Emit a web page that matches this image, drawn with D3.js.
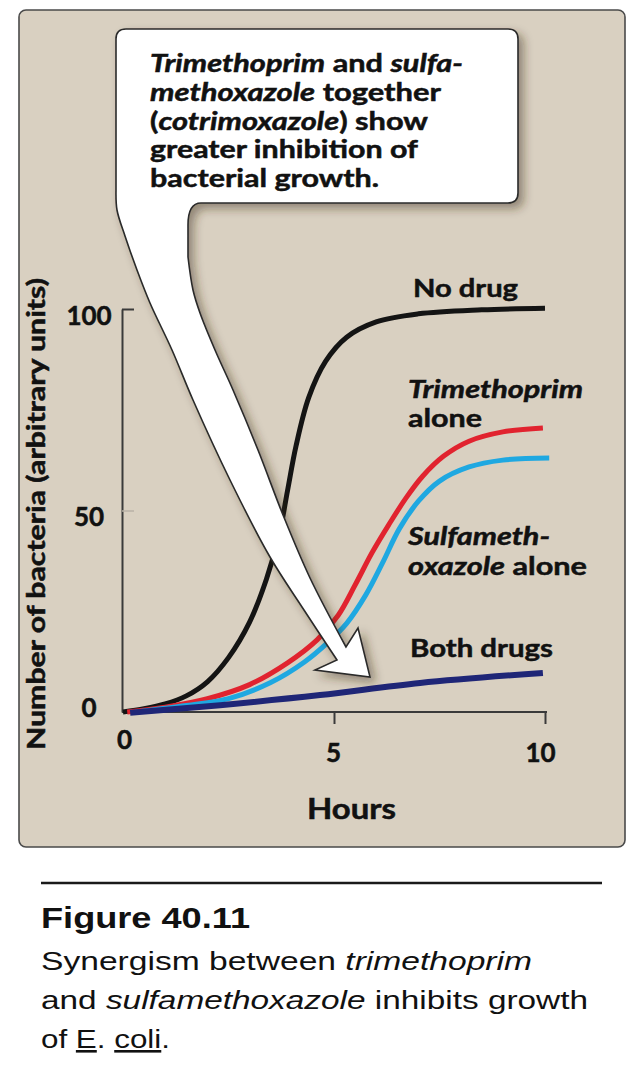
<!DOCTYPE html>
<html>
<head>
<meta charset="utf-8">
<script src="https://cdn.jsdelivr.net/npm/d3@7"></script>
<style>
  html, body { margin: 0; padding: 0; background: #ffffff; }
  svg { display: block; }
</style>
</head>
<body>
<svg id="chart" width="641" height="1073"></svg>
<script>
// ---------------- DATA ----------------
const hoursNoDrug = [0, 0.5, 1.0, 1.5, 2.0, 2.5, 3.0, 3.4, 3.7, 3.9, 4.1, 4.4, 4.8, 5.3, 6.0, 7.0, 8.5, 10];
const noDrug      = [0, 0.8, 2.0, 4.0, 7.5, 13.5, 22.3, 33, 44, 55, 66, 78, 87, 93, 96.8, 98.8, 99.8, 100.2];

const hoursTrimethoprim = [0.1, 1.0, 2.0, 3.0, 3.9, 4.6, 5.1, 5.5, 5.9, 6.3, 6.7, 7.1, 7.6, 8.2, 9.0, 9.95];
const trimethoprim      = [0, 1.2, 3.3, 6.8, 12.2, 17.9, 24, 31.5, 39.5, 46.5, 53, 58.5, 63.5, 67.2, 69.5, 70.5];

const hoursSulfa = [0.3, 1.5, 2.5, 3.5, 4.3, 4.85, 5.3, 5.75, 6.15, 6.55, 7.0, 7.5, 8.2, 9.0, 10.1];
const sulfa      = [0, 1.6, 3.3, 7.3, 12.4, 17.2, 22, 29, 37, 45.5, 52.3, 57.3, 60.8, 62.5, 63.0];

const hoursBoth = [0.17, 2.3, 4.67, 7.04, 9.95];
const bothDrugs = [-0.2, 1.7, 4.2, 7.2, 9.7];

const xTicks = [0, 5, 10];
const yTicks = [0, 50, 100];

// ---------------- LAYOUT ----------------
const svg = d3.select("#chart");
const FONT = "Lato, 'Open Sans', sans-serif";
const CAPFONT = "'Liberation Sans', Arial, Helvetica, sans-serif";
const INK = "#111";

const x = d3.scaleLinear().domain([0, 10]).range([123, 545]);
const y = d3.scaleLinear().domain([0, 100]).range([712, 309]);

// drop shadow filter
const defs = svg.append("defs");
const f = defs.append("filter").attr("id", "shadow").attr("x", "-20%").attr("y", "-20%").attr("width", "150%").attr("height", "150%");
f.append("feDropShadow").attr("dx", 5).attr("dy", 5).attr("stdDeviation", 5)
  .attr("flood-color", "#3a2e1e").attr("flood-opacity", 0.45);

// panel
svg.append("rect")
  .attr("x", 19).attr("y", 10).attr("width", 606).attr("height", 837)
  .attr("rx", 7).attr("ry", 7)
  .attr("fill", "#d9d0c1").attr("stroke", "#4a4a4a").attr("stroke-width", 1.6);

// bold-ish text helper (slight stroke to match heavier source type)
function heavy(sel, w) {
  return sel.attr("fill", INK).attr("stroke", INK).attr("stroke-width", w).attr("paint-order", "stroke");
}

// ---------------- AXES ----------------
const yAxis = d3.axisLeft(y).tickValues(yTicks).tickSizeInner(-12).tickSizeOuter(0).tickFormat(d3.format("d"));
const gy = svg.append("g").attr("transform", "translate(122,0)").call(yAxis);
gy.select(".domain").attr("stroke", "#3a3a3a").attr("stroke-width", 2);
gy.selectAll(".tick line")
  .attr("stroke", d => d === 100 ? "#3a3a3a" : (d === 50 ? "#b9b2a6" : "none"))
  .attr("stroke-width", d => d === 100 ? 2 : 1.5);
heavy(gy.selectAll(".tick text")
  .attr("x", -33).attr("dy", null)
  .attr("y", d => d === 0 ? 4 : 15)
  .attr("text-anchor", "middle")
  .attr("font-family", FONT).attr("font-weight", 700).attr("font-size", 26), 0.5);

const xAxis = d3.axisBottom(x).tickValues(xTicks).tickSizeInner(12).tickSizeOuter(0).tickFormat(d3.format("d"));
const gx = svg.append("g").attr("transform", "translate(0,712)").call(xAxis);
gx.select(".domain").attr("stroke", "#3a3a3a").attr("stroke-width", 2)
  .attr("d", `M${x(0) - 1},0H${x(10) + 2}`);
gx.selectAll(".tick line").attr("stroke", d => d === 0 ? "none" : "#3a3a3a").attr("stroke-width", 2);
heavy(gx.selectAll(".tick text")
  .attr("dy", null)
  .attr("x", d => d === 10 ? -5 : (d === 5 ? -1 : 1))
  .attr("y", d => d === 0 ? 37 : 50)
  .attr("font-family", FONT).attr("font-weight", 700).attr("font-size", 26), 0.5);

// axis titles
heavy(svg.append("text")
  .attr("transform", "translate(45,514) rotate(-90)")
  .attr("text-anchor", "middle")
  .attr("font-family", FONT).attr("font-weight", 700).attr("font-size", 24)
  .attr("textLength", 472).attr("lengthAdjust", "spacingAndGlyphs")
  .text("Number of bacteria (arbitrary units)"), 0.5);

heavy(svg.append("text")
  .attr("x", 307).attr("y", 819)
  .attr("font-family", FONT).attr("font-weight", 700).attr("font-size", 28)
  .attr("textLength", 89).attr("lengthAdjust", "spacingAndGlyphs")
  .text("Hours"), 0.5);

// ---------------- CURVES ----------------
const line = d3.line().x(d => x(d[0])).y(d => y(d[1])).curve(d3.curveCatmullRom.alpha(0.5));
const series = [
  { h: hoursNoDrug, v: noDrug, color: "#141414", w: 5 },
  { h: hoursTrimethoprim, v: trimethoprim, color: "#e1232f", w: 5 },
  { h: hoursSulfa, v: sulfa, color: "#1fa8e1", w: 5 },
  { h: hoursBoth, v: bothDrugs, color: "#1f2677", w: 6 }
];
svg.append("g").selectAll("path").data(series).join("path")
  .attr("d", s => line(s.h.map((h, i) => [h, s.v[i]])))
  .attr("fill", "none").attr("stroke", s => s.color).attr("stroke-width", s => s.w)
  .attr("stroke-linecap", "butt").attr("stroke-linejoin", "round");

// ---------------- CALLOUT ----------------
const cr = d3.line().curve(d3.curveCatmullRom.alpha(0.5));
const seg = pts => cr(pts).replace(/^M/, "L");
const leftEdge = [[116, 190], [117, 210], [125, 236], [137, 270], [150, 303], [172, 350], [193, 400], [230, 480], [270, 557], [304, 610], [337, 660]];
const rightEdge = [[188, 257], [193, 290], [200, 313], [215, 350], [233, 390], [258, 450], [283, 515], [310, 578], [346, 647]];
const head = [[358, 628], [370, 677], [315, 670], [337, 660]];
let p = "M126,29H508Q518,29 518,39V193Q518,203 508,203H201C191,203 188,212 188,225V257";
p += seg(rightEdge);
p += head.map(q => "L" + q[0] + "," + q[1]).join("");
p += seg(leftEdge.slice().reverse());
p += "L116,39Q116,29 126,29Z";
svg.append("path").attr("d", p)
  .attr("fill", "#ffffff").attr("stroke", "#2a2a2a").attr("stroke-width", 1.6)
  .attr("stroke-linejoin", "miter").attr("filter", "url(#shadow)");

const calloutLines = [
  { parts: [["Trimethoprim", true], [" and ", false], ["sulfa-", true]], len: 313 },
  { parts: [["methoxazole", true], [" together", false]], len: 291 },
  { parts: [["(", false], ["cotrimoxazole", true], [") show", false]], len: 278 },
  { parts: [["greater inhibition of", false]], len: 268 },
  { parts: [["bacterial growth.", false]], len: 229 }
];
const cb = [72, 101, 130, 158, 187];
calloutLines.forEach((ln, i) => {
  const t = heavy(svg.append("text").attr("x", 150).attr("y", cb[i])
    .attr("font-family", FONT).attr("font-weight", 700).attr("font-size", 25)
    .attr("textLength", ln.len).attr("lengthAdjust", "spacingAndGlyphs"), 0.5);
  ln.parts.forEach(pt => t.append("tspan").attr("font-style", pt[1] ? "italic" : "normal").text(pt[0]));
});

// ---------------- CURVE LABELS ----------------
const labels = [
  { x: 413, y: 297, len: 105, parts: [["No drug", false]] },
  { x: 408, y: 398, len: 175, parts: [["Trimethoprim", true]] },
  { x: 408, y: 427, len: 74, parts: [["alone", false]] },
  { x: 408, y: 545, len: 142, parts: [["Sulfameth-", true]] },
  { x: 408, y: 575, len: 179, parts: [["oxazole", true], [" alone", false]] },
  { x: 410, y: 657, len: 143, parts: [["Both drugs", false]] }
];
labels.forEach(l => {
  const t = heavy(svg.append("text").attr("x", l.x).attr("y", l.y)
    .attr("font-family", FONT).attr("font-weight", 700).attr("font-size", 25)
    .attr("textLength", l.len).attr("lengthAdjust", "spacingAndGlyphs"), 0.5);
  l.parts.forEach(pt => t.append("tspan").attr("font-style", pt[1] ? "italic" : "normal").text(pt[0]));
});

// ---------------- CAPTION ----------------
svg.append("line").attr("x1", 41).attr("x2", 602).attr("y1", 883).attr("y2", 883)
  .attr("stroke", "#1a1a1a").attr("stroke-width", 2.5);
svg.append("text").attr("x", 41).attr("y", 928)
  .attr("font-family", CAPFONT).attr("font-weight", 700).attr("font-size", 30).attr("fill", INK)
  .attr("textLength", 209).attr("lengthAdjust", "spacingAndGlyphs")
  .text("Figure 40.11");

const capLines = [
  { y: 970, len: 491, parts: [["Synergism between ", ""], ["trimethoprim", "i"]] },
  { y: 1009, len: 547, parts: [["and ", ""], ["sulfamethoxazole", "i"], [" inhibits growth", ""]] },
  { y: 1048, len: 129, parts: [["of ", ""], ["E", "u"], [". ", ""], ["coli", "u"], [".", ""]] }
];
capLines.forEach(c => {
  const t = svg.append("text").attr("x", 41).attr("y", c.y)
    .attr("font-family", CAPFONT).attr("font-size", 26).attr("fill", INK)
    .attr("textLength", c.len).attr("lengthAdjust", "spacingAndGlyphs");
  c.parts.forEach(pt => {
    const s = t.append("tspan").text(pt[0]);
    if (pt[1] === "i") s.attr("font-style", "italic");
    if (pt[1] === "u") s.attr("text-decoration", "underline");
  });
});
</script>
</body>
</html>
